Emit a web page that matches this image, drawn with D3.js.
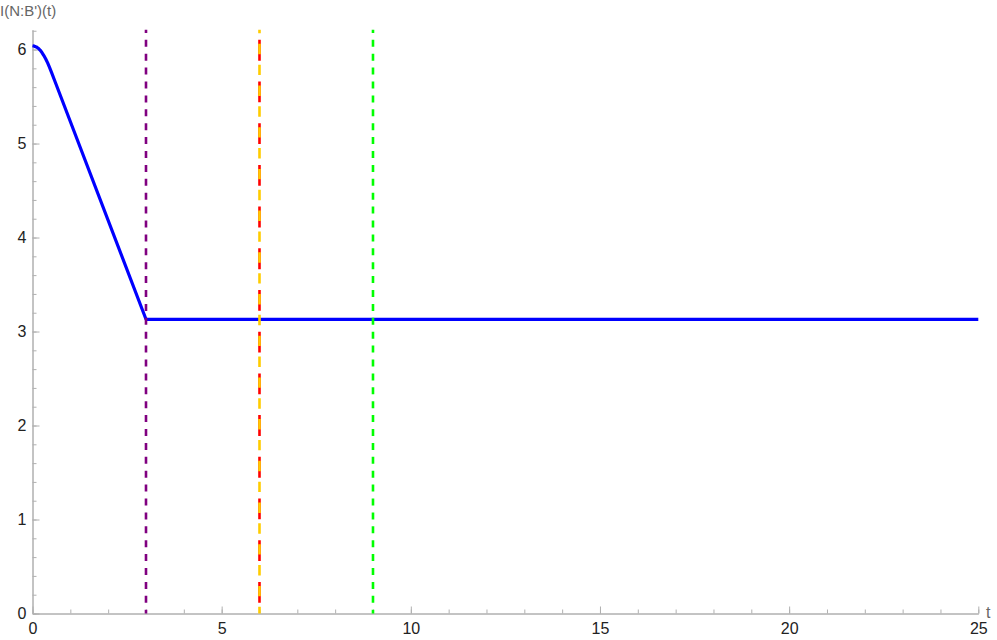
<!DOCTYPE html>
<html>
<head>
<meta charset="utf-8">
<script src="https://cdn.jsdelivr.net/npm/d3@7"></script>
<style>
  body { margin: 0; background: #fff; }
  svg { display: block; font-family: "Liberation Sans", Arial, sans-serif; }
  .axis path, .axis line { stroke: #b0b0b0; }
  .axis text { fill: #222; font-size: 16px; }
</style>
</head>
<body>
<script>
// curve I(N:B')(t)
var tVals = [0, 0.05, 0.1, 0.15, 0.2, 0.25, 0.3, 0.35, 0.4, 0.45, 0.5, 0.6, 3, 25];
var iVals = [6.04, 6.036, 6.028, 6.014, 5.994, 5.968, 5.936, 5.9, 5.858, 5.81, 5.76, 5.655, 3.13, 3.13];

// vertical marker lines (t positions)
var markerT = [3, 6, 6, 9];
var markerNames = ["purple", "red", "yellow", "green"];

var xMajor = [0, 5, 10, 15, 20, 25];
var yMajor = [0, 1, 2, 3, 4, 5, 6];

var width = 997, height = 640;

var x = d3.scaleLinear().domain([0, 25]).range([32.5, 978.3]);
var y = d3.scaleLinear().domain([0, 6.21]).range([613.5, 29.8]);

var svg = d3.select("body").append("svg")
    .attr("width", width)
    .attr("height", height);

// minor ticks
svg.append("g")
    .attr("class", "axis")
    .attr("transform", "translate(0," + y(0) + ")")
    .call(d3.axisBottom(x).tickValues(d3.range(0, 26, 1)).tickSize(-4).tickSizeOuter(0).tickFormat(""));
svg.append("g")
    .attr("class", "axis")
    .attr("transform", "translate(" + x(0) + ",0)")
    .call(d3.axisLeft(y).tickValues(d3.range(0, 6.21, 0.2)).tickSize(-4).tickSizeOuter(0).tickFormat(""));

// major ticks + labels
svg.append("g")
    .attr("class", "axis")
    .attr("transform", "translate(0," + y(0) + ")")
    .call(d3.axisBottom(x).tickValues(xMajor).tickSize(-7).tickSizeOuter(0).tickPadding(9).tickFormat(d3.format("d")));
svg.append("g")
    .attr("class", "axis")
    .attr("transform", "translate(" + x(0) + ",0)")
    .call(d3.axisLeft(y).tickValues(yMajor).tickSize(-7).tickSizeOuter(0).tickPadding(6).tickFormat(d3.format("d")));

svg.selectAll(".axis .domain").attr("stroke", "#b0b0b0");

// the curve
var line = d3.line()
    .x(function(d, i) { return x(tVals[i]); })
    .y(function(d) { return y(d); });

svg.append("path")
    .datum(iVals)
    .attr("fill", "none")
    .attr("stroke", "#0000ff")
    .attr("stroke-width", 3.2)
    .attr("stroke-linejoin", "round")
    .attr("d", line);

// dashed marker lines, drawn over the curve
var styles = {
  purple: {color: "#800080", dash: "7,6.9", offset: 3.9},
  red:    {color: "#ff0000", dash: "20.85,20.85", offset: 31.7},
  yellow: {color: "#ffcc00", dash: "10.4,10.45", offset: 6.85},
  green:  {color: "#00ff00", dash: "7,6.9", offset: 3.9}
};

svg.append("g").selectAll("line")
    .data(markerT)
  .enter().append("line")
    .attr("x1", function(d) { return x(d); })
    .attr("x2", function(d) { return x(d); })
    .attr("y1", y(6.21))
    .attr("y2", y(0))
    .attr("stroke", function(d, i) { return styles[markerNames[i]].color; })
    .attr("stroke-width", 2.6)
    .attr("stroke-dasharray", function(d, i) { return styles[markerNames[i]].dash; })
    .attr("stroke-dashoffset", function(d, i) { return styles[markerNames[i]].offset; });

// axis labels
svg.append("text")
    .attr("x", 0)
    .attr("y", 16)
    .attr("fill", "#666")
    .style("font-size", "15px")
    .text("I(N:B')(t)");

svg.append("text")
    .attr("x", 986)
    .attr("y", 618)
    .attr("fill", "#666")
    .style("font-size", "16px")
    .text("t");
</script>
</body>
</html>
